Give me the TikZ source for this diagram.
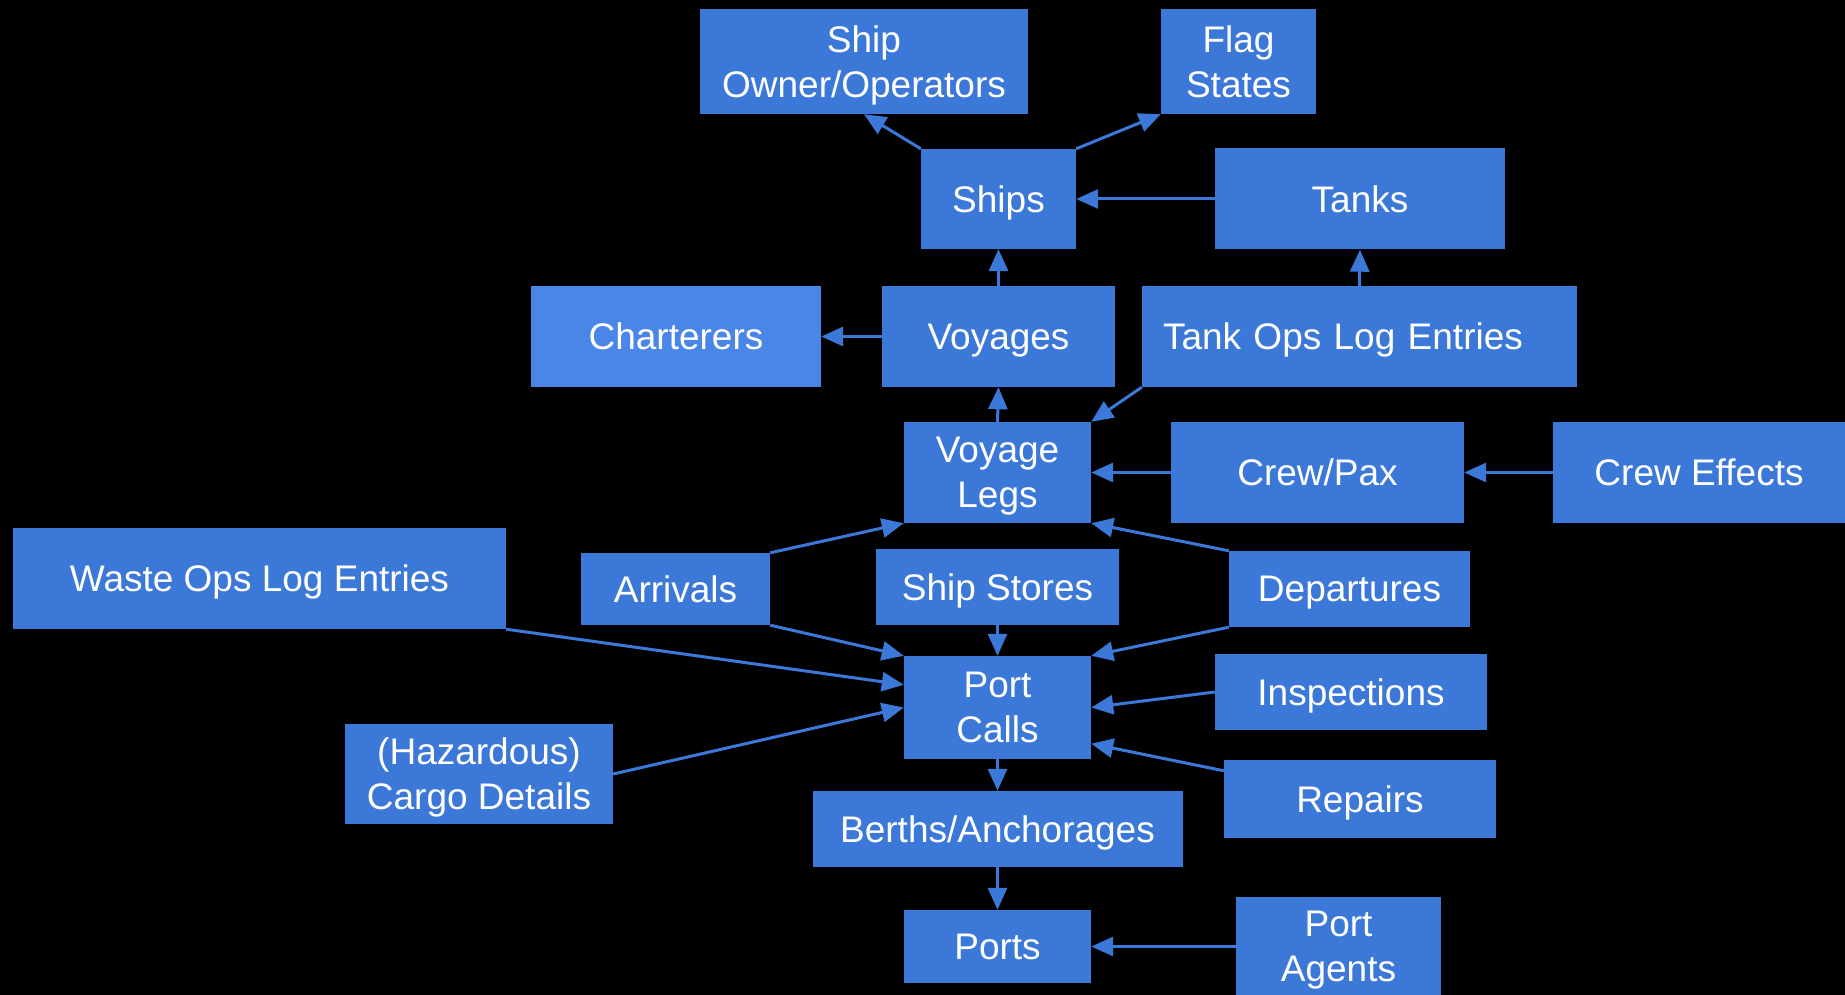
\documentclass[tikz,border=0pt]{standalone}
\usepackage{fontspec}
\setmainfont{Liberation Sans}
\usetikzlibrary{arrows.meta,calc}
\definecolor{boxblue}{HTML}{3C78D8}
\definecolor{lightblue}{HTML}{4A86E8}
\tikzset{
  box/.style={rectangle, fill=boxblue, text=white, font=\fontsize{37}{45}\selectfont,
    inner sep=0pt, align=center, text depth=0pt},
  twoline/.style={text depth=-3pt},
  link/.style={draw=boxblue, line width=3pt, -{Triangle[length=22pt,width=19pt]}},
}
\begin{document}
\begin{tikzpicture}[x=1pt,y=-1pt]
\fill[black] (0,0) rectangle (1845,995);
\useasboundingbox (0,0) rectangle (1845,995);

\node[box, twoline, minimum width=328pt, minimum height=105pt] (owner) at (864,61.5) {Ship\\Owner/Operators};
\node[box, twoline, minimum width=155pt, minimum height=105pt] (flag) at (1238.5,61.5) {Flag\\States};
\node[box, minimum width=155pt, minimum height=100pt] (ships) at (998.5,199) {Ships};
\node[box, minimum width=290pt, minimum height=101pt] (tanks) at (1360,199) {Tanks};
\node[box, fill=lightblue, minimum width=290pt, minimum height=101pt] (charterers) at (676,336.5) {Charterers};
\node[box, minimum width=233pt, minimum height=101pt] (voyages) at (998.5,336.5) {Voyages};
\node[box, minimum width=435pt, minimum height=101pt, text width=393pt, inner xsep=21pt, align=left] (tankops) at (1359.5,336.5) {Tank Ops Log Entries};
\node[box, twoline, minimum width=187pt, minimum height=101pt] (legs) at (997.5,472.5) {Voyage\\Legs};
\node[box, minimum width=293pt, minimum height=101pt] (crewpax) at (1317.5,472.5) {Crew/Pax};
\node[box, minimum width=292pt, minimum height=101pt] (creweffects) at (1699,472.5) {Crew Effects};
\node[box, minimum width=493pt, minimum height=101pt] (waste) at (259.5,578.5) {Waste Ops Log Entries};
\node[box, minimum width=189pt, minimum height=72pt] (arrivals) at (675.5,589) {Arrivals};
\node[box, minimum width=243pt, minimum height=76pt] (shipstores) at (997.5,587) {Ship Stores};
\node[box, minimum width=241pt, minimum height=76pt] (departures) at (1349.5,589) {Departures};
\node[box, twoline, minimum width=187pt, minimum height=103pt] (portcalls) at (997.5,707.5) {Port\\Calls};
\node[box, minimum width=272pt, minimum height=76pt] (inspections) at (1351,692) {Inspections};
\node[box, twoline, minimum width=268pt, minimum height=100pt] (hazardous) at (479,774) {(Hazardous)\\Cargo Details};
\node[box, minimum width=272pt, minimum height=78pt] (repairs) at (1360,799) {Repairs};
\node[box, minimum width=370pt, minimum height=76pt] (berths) at (997.5,829) {Berths/Anchorages};
\node[box, minimum width=187pt, minimum height=73pt] (ports) at (997.5,946.5) {Ports};
\node[box, twoline, minimum width=205pt, minimum height=99pt] (portagents) at (1338.5,946.5) {Port\\Agents};

\draw[link] (ships.north west) -- (owner.south);
\draw[link] (ships.north east) -- (flag.south west);
\draw[link] (tanks.west) -- (ships.east);
\draw[link] (voyages.north) -- (ships.south);
\draw[link] (voyages.west) -- (charterers.east);
\draw[link] (legs.north) -- (voyages.south);
\draw[link] (tankops.north) -- (tanks.south);
\draw[link] (tankops.south west) -- (legs.north east);
\draw[link] (crewpax.west) -- (legs.east);
\draw[link] (creweffects.west) -- (crewpax.east);
\draw[link] (arrivals.north east) -- (legs.south west);
\draw[link] (departures.north west) -- (legs.south east);
\draw[link] (arrivals.south east) -- (portcalls.north west);
\draw[link] (departures.south west) -- (portcalls.north east);
\draw[link] (shipstores.south) -- (portcalls.north);
\draw[link] (waste.south east) -- ($(portcalls.north west)!0.28!(portcalls.south west)$);
\draw[link] (hazardous.east) -- (portcalls.west);
\draw[link] (inspections.west) -- (portcalls.east);
\draw[link] ($(repairs.north west)!0.14!(repairs.south west)$) -- ($(portcalls.north east)!0.85!(portcalls.south east)$);
\draw[link] (portcalls.south) -- (berths.north);
\draw[link] (berths.south) -- (ports.north);
\draw[link] (portagents.west) -- (ports.east);
\end{tikzpicture}
\end{document}
